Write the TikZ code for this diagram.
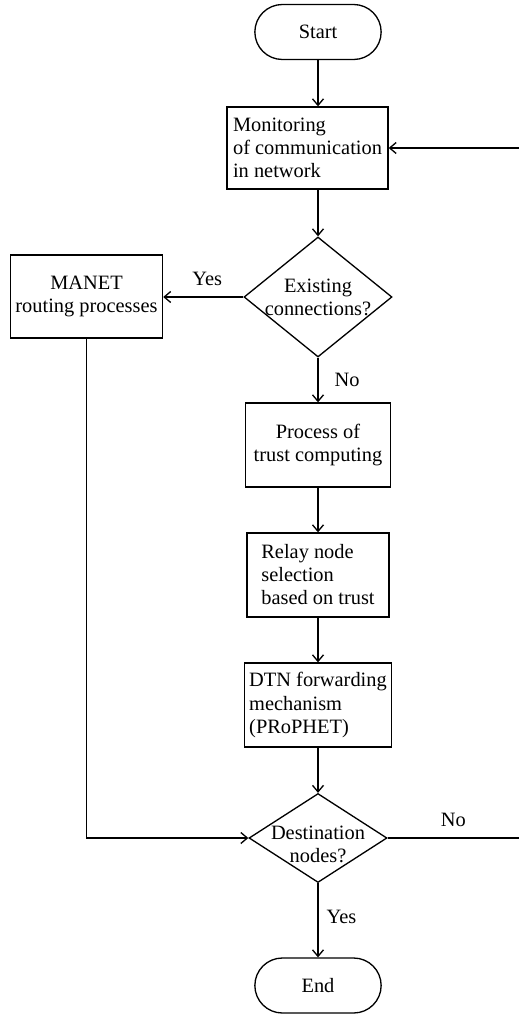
\documentclass[tikz,border=0pt]{standalone}
\usepackage{fontspec}
\setmainfont{Liberation Serif}
\usetikzlibrary{arrows.meta, shapes.geometric, shapes.misc}

\begin{document}
\begin{tikzpicture}[
  x=0.2mm, y=-0.2mm,
  line width=0.75pt,
  >={Straight Barb[length=1.3mm, width=2.2mm]},
  every node/.style={font=\fontsize{11.6}{13.1}\selectfont},
  proc/.style={draw, rectangle, minimum width=29mm, minimum height=16.8mm,
               inner sep=1mm},
  term/.style={draw, rounded rectangle, minimum width=27.6mm,
               minimum height=11mm},
  decision/.style={draw, diamond, inner sep=0pt},
  lbl/.style={inner sep=0pt}
]
  \useasboundingbox (0,0) rectangle (519,1016);

  % Main column
  \def\colx{318}

  \node[term] (start) at (\colx,32) {Start};
  \node[proc, minimum width=32.2mm, minimum height=16.4mm, align=left]
    (mon) at (307.5,148) {Monitoring\\of communication\\in network};
  \node[decision, minimum width=29.6mm, minimum height=24mm]
    (exist) at (\colx,297) {};
  \node[lbl, align=center] (existtxt) at (exist) {Existing\\connections?};
  \node[proc, minimum width=30.2mm, minimum height=16.6mm, align=center]
    (manet) at (86.5,296.5) {MANET\\routing processes};
  \node[proc, align=center] (trust) at (\colx,445) {Process of\\trust computing};
  \node[proc, minimum width=28.4mm, align=left]
    (relay) at (\colx,575) {Relay node\\selection\\based on trust};
  \node[proc, align=left] (dtn) at (\colx,705)
    {DTN forwarding\\mechanism\\(PRoPHET)};
  \node[decision, minimum width=27.6mm, minimum height=17.8mm]
    (dest) at (\colx,838) {};
  \node[lbl, align=center] (desttxt) at ([yshift=-1.2mm]dest.center)
    {Destination\\nodes?};
  \node[term] (end) at (\colx,985.5) {End};

  % Feedback ends
  \coordinate (fbr) at (519,838);
  \coordinate (fbt) at (519,148);

  % Connectors
  \draw[->] (start.south) -- (start.south |- mon.north);
  \draw[->] (exist.north |- mon.south) -- (exist.north);
  \draw[->] (exist.west) -- (exist.west -| manet.east)
    node[lbl, pos=0.45, above=2.2mm] (yesa) {Yes};
  \draw[->] (exist.south) -- (trust.north)
    node[lbl, midway, right=3.2mm] (noa) {No};
  \draw[->] (trust) -- (relay);
  \draw[->] (relay) -- (dtn);
  \draw[->] (dtn) -- (dest);
  \draw[->] (manet.south) |- (dest.west);
  \draw (dest.east) -- (fbr) node[lbl, pos=0.5, above=2.2mm] (nob) {No};
  \draw[->] (fbt) -- (mon.east);
  \draw[->] (dest.south) -- (end.north)
    node[lbl, pos=0.45, right=1.6mm] (yesb) {Yes};
\end{tikzpicture}
\end{document}
